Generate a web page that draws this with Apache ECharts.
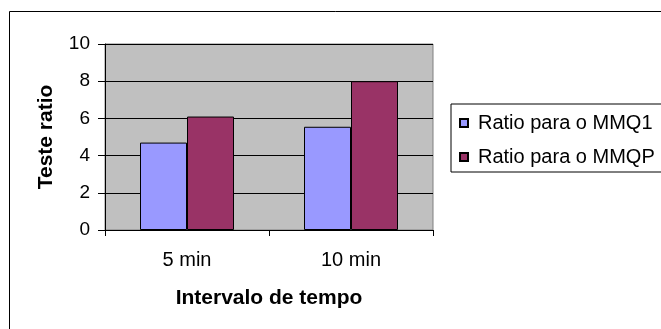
<!DOCTYPE html>
<html>
<head>
<meta charset="utf-8">
<script src="https://cdn.jsdelivr.net/npm/echarts@6/dist/echarts.min.js"></script>
<style>
html,body{margin:0;padding:0;background:#fff;}
#chart{width:661px;height:329px;}
</style>
</head>
<body>
<div id="chart"></div>
<script>
const categories = ['5 min', '10 min'];
const seriesNames = ['Ratio para o MMQ1', 'Ratio para o MMQP'];
const mmq1 = [4.7, 5.55];
const mmqp = [6.1, 8.0];
const yTicks = { min: 0, max: 10, interval: 2 };
const xTitle = 'Intervalo de tempo';
const yTitle = 'Teste ratio';

const FONT = '"Liberation Sans", Arial, sans-serif';
const chart = echarts.init(document.getElementById('chart'), null, { renderer: 'canvas' });
chart.setOption({
  backgroundColor: '#ffffff',
  animation: false,
  graphic: [{
    type: 'rect',
    shape: { x: 9.5, y: 11.5, width: 800, height: 500 },
    style: { fill: 'none', stroke: '#000', lineWidth: 1 },
    z: -10
  }],
  grid: {
    left: 105, top: 44, right: 228, bottom: 99,
    show: true, backgroundColor: '#C0C0C0', borderColor: '#808080', borderWidth: 1
  },
  legend: {
    orient: 'vertical',
    left: 451, top: 104,
    padding: [9, 30, 5, 8],
    borderColor: '#000', borderWidth: 1,
    itemWidth: 8, itemHeight: 8, itemGap: 14,
    icon: 'rect',
    textStyle: { fontFamily: FONT, fontSize: 20, color: '#000', lineHeight: 20, padding: [0, 0, 0, 5] },
    data: seriesNames
  },
  xAxis: {
    type: 'category',
    data: categories,
    boundaryGap: true,
    axisLine: { show: true, lineStyle: { color: '#000', width: 1 } },
    axisTick: { show: true, length: 6, interval: 0, lineStyle: { color: '#000' } },
    axisLabel: { fontFamily: FONT, fontSize: 20, color: '#000', margin: 20 },
    name: xTitle,
    nameLocation: 'middle',
    nameGap: 58,
    nameTextStyle: { fontFamily: FONT, fontSize: 21, fontWeight: 'bold', color: '#000' }
  },
  yAxis: {
    type: 'value',
    min: yTicks.min, max: yTicks.max, interval: yTicks.interval,
    axisLine: { show: true, lineStyle: { color: '#000', width: 1 } },
    axisTick: { show: true, length: 7, lineStyle: { color: '#000' } },
    splitLine: { show: true, lineStyle: { color: '#000', width: 1 } },
    axisLabel: { fontFamily: FONT, fontSize: 19, color: '#000', margin: 15 },
    name: yTitle,
    nameLocation: 'middle',
    nameRotate: 90,
    nameGap: 48,
    nameTextStyle: { fontFamily: FONT, fontSize: 21, fontWeight: 'bold', color: '#000' }
  },
  series: [
    {
      name: seriesNames[0], type: 'bar', data: mmq1, barWidth: 47, barGap: '0%',
      itemStyle: { color: '#9999FF', borderColor: '#000', borderWidth: 1 }
    },
    {
      name: seriesNames[1], type: 'bar', data: mmqp, barWidth: 47, barGap: '0%',
      itemStyle: { color: '#993366', borderColor: '#000', borderWidth: 1 }
    }
  ]
});
</script>
</body>
</html>
